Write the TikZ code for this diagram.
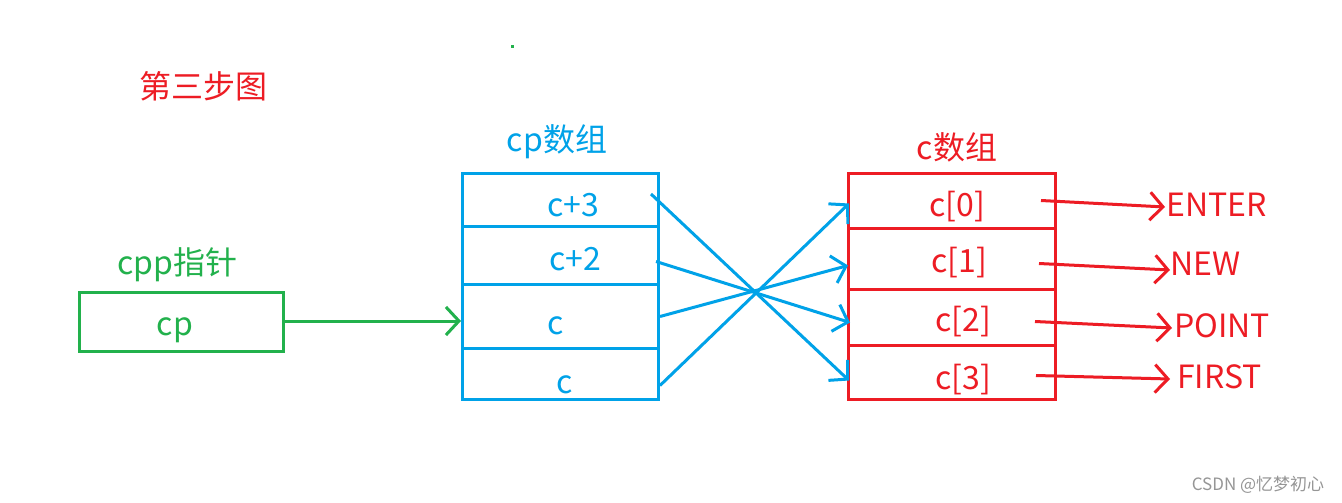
\documentclass[tikz,border=0pt]{standalone}
\usepackage{fontspec}
\setmainfont{Noto Sans CJK SC}
\usetikzlibrary{arrows.meta,calc}
\definecolor{pred}{RGB}{237,28,36}
\definecolor{pblue}{RGB}{0,162,232}
\definecolor{pgreen}{RGB}{34,177,76}
\definecolor{wmgray}{RGB}{150,150,150}
\begin{document}
\begin{tikzpicture}[x=1pt,y=-1pt,
  txt/.style={font=\fontsize{32}{32}\selectfont, inner sep=0pt},
  cell/.style={draw, line width=3pt, rectangle, inner sep=0pt, anchor=north west, minimum width=#1},
  tip/.style={line width=3pt, -{Straight Barb[length=13pt,width=28pt]}}]
\fill[white] (0,0) rectangle (1342,503);
\useasboundingbox (0,0) rectangle (1342,503);

% title and stray dot
\node[txt, text=pred] (title) at (203,86) {第三步图};
\fill[pgreen] (510.5,45.5) rectangle (513.5,48.5);

% pointer box
\node[txt, text=pgreen] (glab) at (177,265) {cpp指针};
\node[cell=204pt, draw=pgreen, minimum height=59pt] (g) at (78,291) {};
\node[txt, text=pgreen] (gtxt) at (175,330) {cp};

% cp array
\node[txt, text=pblue] (blab) at (557,142) {cp数组};
\node[cell=196pt, draw=pblue, minimum height=53pt] (b3) at (461,172) {};
\node[cell=196pt, draw=pblue, minimum height=58pt] (b2) at (461,225) {};
\node[cell=196pt, draw=pblue, minimum height=64pt] (b1) at (461,283) {};
\node[cell=196pt, draw=pblue, minimum height=51pt] (b0) at (461,347) {};
\node[txt, text=pblue] (t3) at (573,205) {c+3};
\node[txt, text=pblue] (t2) at (575,259) {c+2};
\node[txt, text=pblue] (t1) at (556,326) {c};
\node[txt, text=pblue] (t0) at (565,385) {c};

% c array
\node[txt, text=pred] (rlab) at (957,147) {c数组};
\node[cell=207pt, draw=pred, minimum height=55pt] (r0) at (847,172) {};
\node[cell=207pt, draw=pred, minimum height=61pt] (r1) at (847,227) {};
\node[cell=207pt, draw=pred, minimum height=56pt] (r2) at (847,288) {};
\node[cell=207pt, draw=pred, minimum height=54pt] (r3) at (847,344) {};
\node[txt, text=pred] (s0) at (957,207) {c[0]};
\node[txt, text=pred] (s1) at (959,263) {c[1]};
\node[txt, text=pred] (s2) at (963,322) {c[2]};
\node[txt, text=pred] (s3) at (963,380) {c[3]};

% strings
\node[txt, text=pred, anchor=west] (w0) at (1166,205) {ENTER};
\node[txt, text=pred, anchor=west] (w1) at (1170,264) {NEW};
\node[txt, text=pred, anchor=west] (w2) at (1174,326) {POINT};
\node[txt, text=pred, anchor=west] (w3) at (1177,377) {FIRST};

% connectors
\draw[tip, pgreen] ($(g.east)+(0,-1)$) -- ($(g.east -| b1.west)+(0,-1)$);

\draw[tip, pblue] ($(b3.east)+(-9,-6)$) -- ($(r3.west)+(2,8)$);
\draw[tip, pblue] ($(b2.east)+(-4,6)$) -- ($(r2.west)+(3,5)$);
\draw[tip, pblue] (b1.east) -- ($(r1.west)+(1,6.5)$);
\draw[tip, pblue] ($(b0.east)+(0,11.5)$) -- ($(r0.west)+(2,2.5)$);

\draw[tip, pred] ($(r0.east)+(-16,-0.5)$) -- ($(w0.west)+(-1,2)$);
\draw[tip, pred] ($(r1.east)+(-18,4.5)$) -- ($(w1.west)+(0,6)$);
\draw[tip, pred] ($(r2.east)+(-22,4)$) -- ($(w2.west)+(-2,2)$);
\draw[tip, pred] ($(r3.east)+(-21,3)$) -- ($(w3.west)+(-7,2)$);

% watermark
\node[inner sep=0pt, text=wmgray, font=\fontsize{17}{17}\selectfont] (wm) at (1258,485) {CSDN @忆梦初心};
\end{tikzpicture}
\end{document}
